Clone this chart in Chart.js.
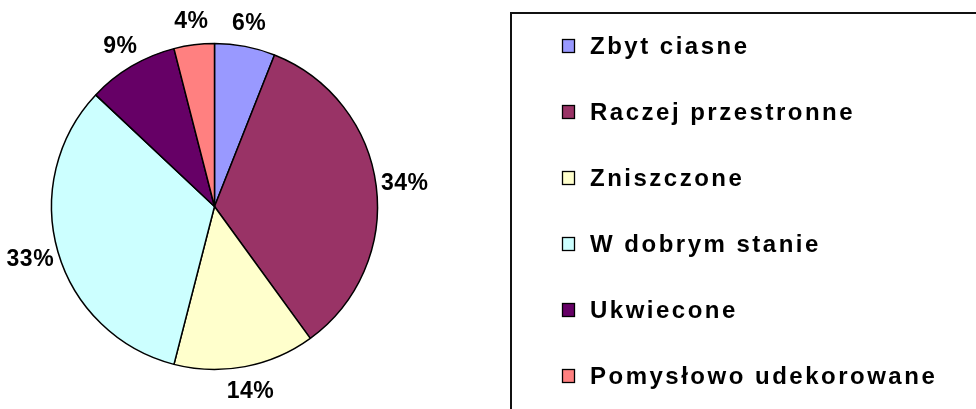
<!DOCTYPE html>
<html lang="pl">

<head>
    <meta charset="UTF-8">
    <title>Wykres kołowy</title>
    <script src="https://cdn.jsdelivr.net/npm/chart.js"></script>
    <style>
        body {
            margin: 0;
            padding: 0;
            background: #fff;
            overflow: hidden;
        }

        canvas {
            display: block;
        }
    </style>
</head>

<body>
    <canvas id="pieChart" width="976" height="409"></canvas>

    <script>
        const categories = [
            'Zbyt ciasne',
            'Raczej przestronne',
            'Zniszczone',
            'W dobrym stanie',
            'Ukwiecone',
            'Pomysłowo udekorowane'
        ];
        const shares = [6, 34, 14, 33, 9, 4];
        const sliceColors = ['#9999FF', '#993366', '#FFFFCC', '#CCFFFF', '#660066', '#FF8080'];

        const FONT = "'Liberation Sans', Arial, sans-serif";

        // percentage labels placed just outside each slice
        const outsideLabels = {
            id: 'outsideLabels',
            afterDatasetsDraw(chart) {
                const ctx = chart.ctx;
                const meta = chart.getDatasetMeta(0);
                const values = chart.data.datasets[0].data;
                ctx.save();
                ctx.font = 'bold 23px ' + FONT;
                ctx.letterSpacing = '0.5px';
                ctx.fillStyle = '#000';
                ctx.textAlign = 'center';
                ctx.textBaseline = 'middle';
                meta.data.forEach((arc, i) => {
                    const p = arc.getProps(['x', 'y', 'startAngle', 'endAngle', 'outerRadius'], true);
                    const mid = (p.startAngle + p.endAngle) / 2;
                    const text = values[i] + '%';
                    const w = ctx.measureText(text).width;
                    const cx = p.x + Math.cos(mid) * (p.outerRadius + 5 + w / 2);
                    const cy = p.y + Math.sin(mid) * (p.outerRadius + 6 + 18);
                    ctx.fillText(text, cx, cy + 1);
                });
                ctx.restore();
            }
        };

        // framed legend on the right side
        const boxedLegend = {
            id: 'boxedLegend',
            afterDraw(chart) {
                const ctx = chart.ctx;
                const items = Chart.overrides.pie.plugins.legend.labels.generateLabels(chart);
                ctx.save();
                ctx.strokeStyle = '#111';
                ctx.lineWidth = 2;
                ctx.beginPath();
                ctx.moveTo(511, chart.height + 5);
                ctx.lineTo(511, 13);
                ctx.lineTo(chart.width + 5, 13);
                ctx.stroke();

                ctx.font = 'bold 24px ' + FONT;
                ctx.letterSpacing = '2.5px';
                ctx.textBaseline = 'middle';
                ctx.textAlign = 'left';
                items.forEach((item, i) => {
                    const y = 46 + i * 66;
                    ctx.fillStyle = item.fillStyle;
                    ctx.fillRect(562, y - 7, 13, 14);
                    ctx.strokeStyle = '#000';
                    ctx.lineWidth = 1.3;
                    ctx.strokeRect(562.5, y - 6.5, 12, 13);
                    ctx.fillStyle = '#000';
                    ctx.fillText(item.text, 590, y + 1);
                });
                ctx.restore();
            }
        };

        const chart = new Chart(document.getElementById('pieChart'), {
            type: 'pie',
            data: {
                labels: categories,
                datasets: [{
                    data: shares,
                    backgroundColor: sliceColors,
                    borderColor: '#000',
                    borderWidth: 1.5
                }]
            },
            options: {
                responsive: false,
                animation: false,
                radius: 163,
                layout: {
                    padding: { left: 0, right: 547, top: 4, bottom: 0 }
                },
                plugins: {
                    legend: { display: false },
                    tooltip: { enabled: false }
                }
            },
            plugins: [outsideLabels, boxedLegend]
        });
    </script>
</body>

</html>
